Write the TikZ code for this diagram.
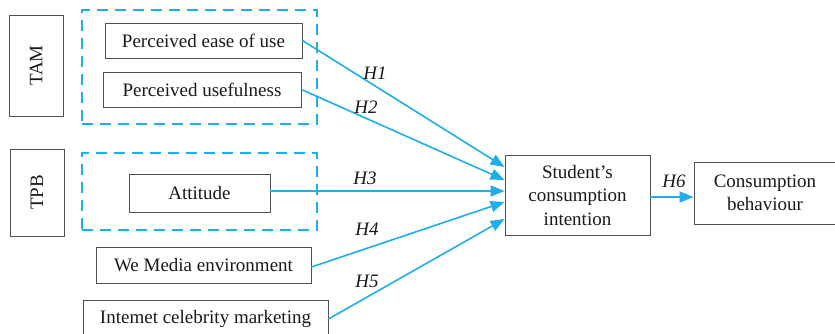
\documentclass[tikz,border=0pt]{standalone}
\usepackage{fontspec}
\setmainfont{Liberation Serif}
\usetikzlibrary{arrows.meta}
\definecolor{lblue}{RGB}{30,174,234}
\definecolor{boxgray}{RGB}{80,80,80}
\begin{document}
\begin{tikzpicture}[x=1pt,y=-1pt,
  every node/.style={font=\fontsize{19}{23.5}\selectfont, text=black!90, inner sep=0pt},
  box/.style={draw=boxgray, line width=0.9pt, align=center},
  grp/.style={draw=lblue, line width=2.8pt, dash pattern=on 11pt off 7pt},
  arr/.style={draw=lblue, line width=1.6pt, -{Triangle[length=14pt,width=11pt]}},
  hlab/.style={font=\fontsize{19}{23.5}\selectfont\itshape}]
\useasboundingbox (0,0) rectangle (835,333);
% theory boxes
\node[box, minimum width=54, minimum height=101] (tam) at (36,65.5) {\rotatebox{90}{TAM}};
\node[box, minimum width=54, minimum height=87] (tpb) at (37,192.5) {\rotatebox{90}{TPB}};
% dashed groups
\node[grp, minimum width=235, minimum height=114] (tamg) at (199.5,67) {};
\node[grp, minimum width=235, minimum height=77] (tpbg) at (199.5,191.5) {};
% constructs
\node[box, minimum width=197, minimum height=35] (pe) at (203.5,40.5) {Perceived ease of use};
\node[box, minimum width=198, minimum height=35] (pu) at (202,89.5) {Perceived usefulness};
\node[box, minimum width=141, minimum height=38] (att) at (199.5,193) {Attitude};
\node[box, minimum width=215, minimum height=36] (wm) at (203.5,265) {We Media environment};
\node[box, minimum width=245, minimum height=38] (ic) at (205.5,319) {Intemet celebrity marketing};
\node[box, minimum width=145, minimum height=80] (si) at (577.5,195) {Student's\\consumption\\intention};
\node[box, minimum width=142, minimum height=62] (cb) at (765,193) {Consumption\\behaviour};
% connectors
\draw[arr] (pe.east) -- ([yshift=28pt]si.west);
\draw[arr] (pu.east) -- ([yshift=15pt]si.west);
\draw[arr] ([yshift=2pt]att.east) -- ([yshift=4pt]si.west);
\draw[arr] ([yshift=-2pt]wm.east) -- ([yshift=-7pt]si.west);
\draw[arr] (ic.east) -- ([yshift=-24pt]si.west);
\draw[arr] ([yshift=-2pt]si.east) -- ([yshift=-2pt]si.east -| cb.west);
% labels
\node[hlab] (h1) at (375,73) {H1};
\node[hlab] (h2) at (366,107) {H2};
\node[hlab] (h3) at (365,178) {H3};
\node[hlab] (h4) at (367,229) {H4};
\node[hlab] (h5) at (367,281) {H5};
\node[hlab] (h6) at (674,181) {H6};
\end{tikzpicture}
\end{document}
